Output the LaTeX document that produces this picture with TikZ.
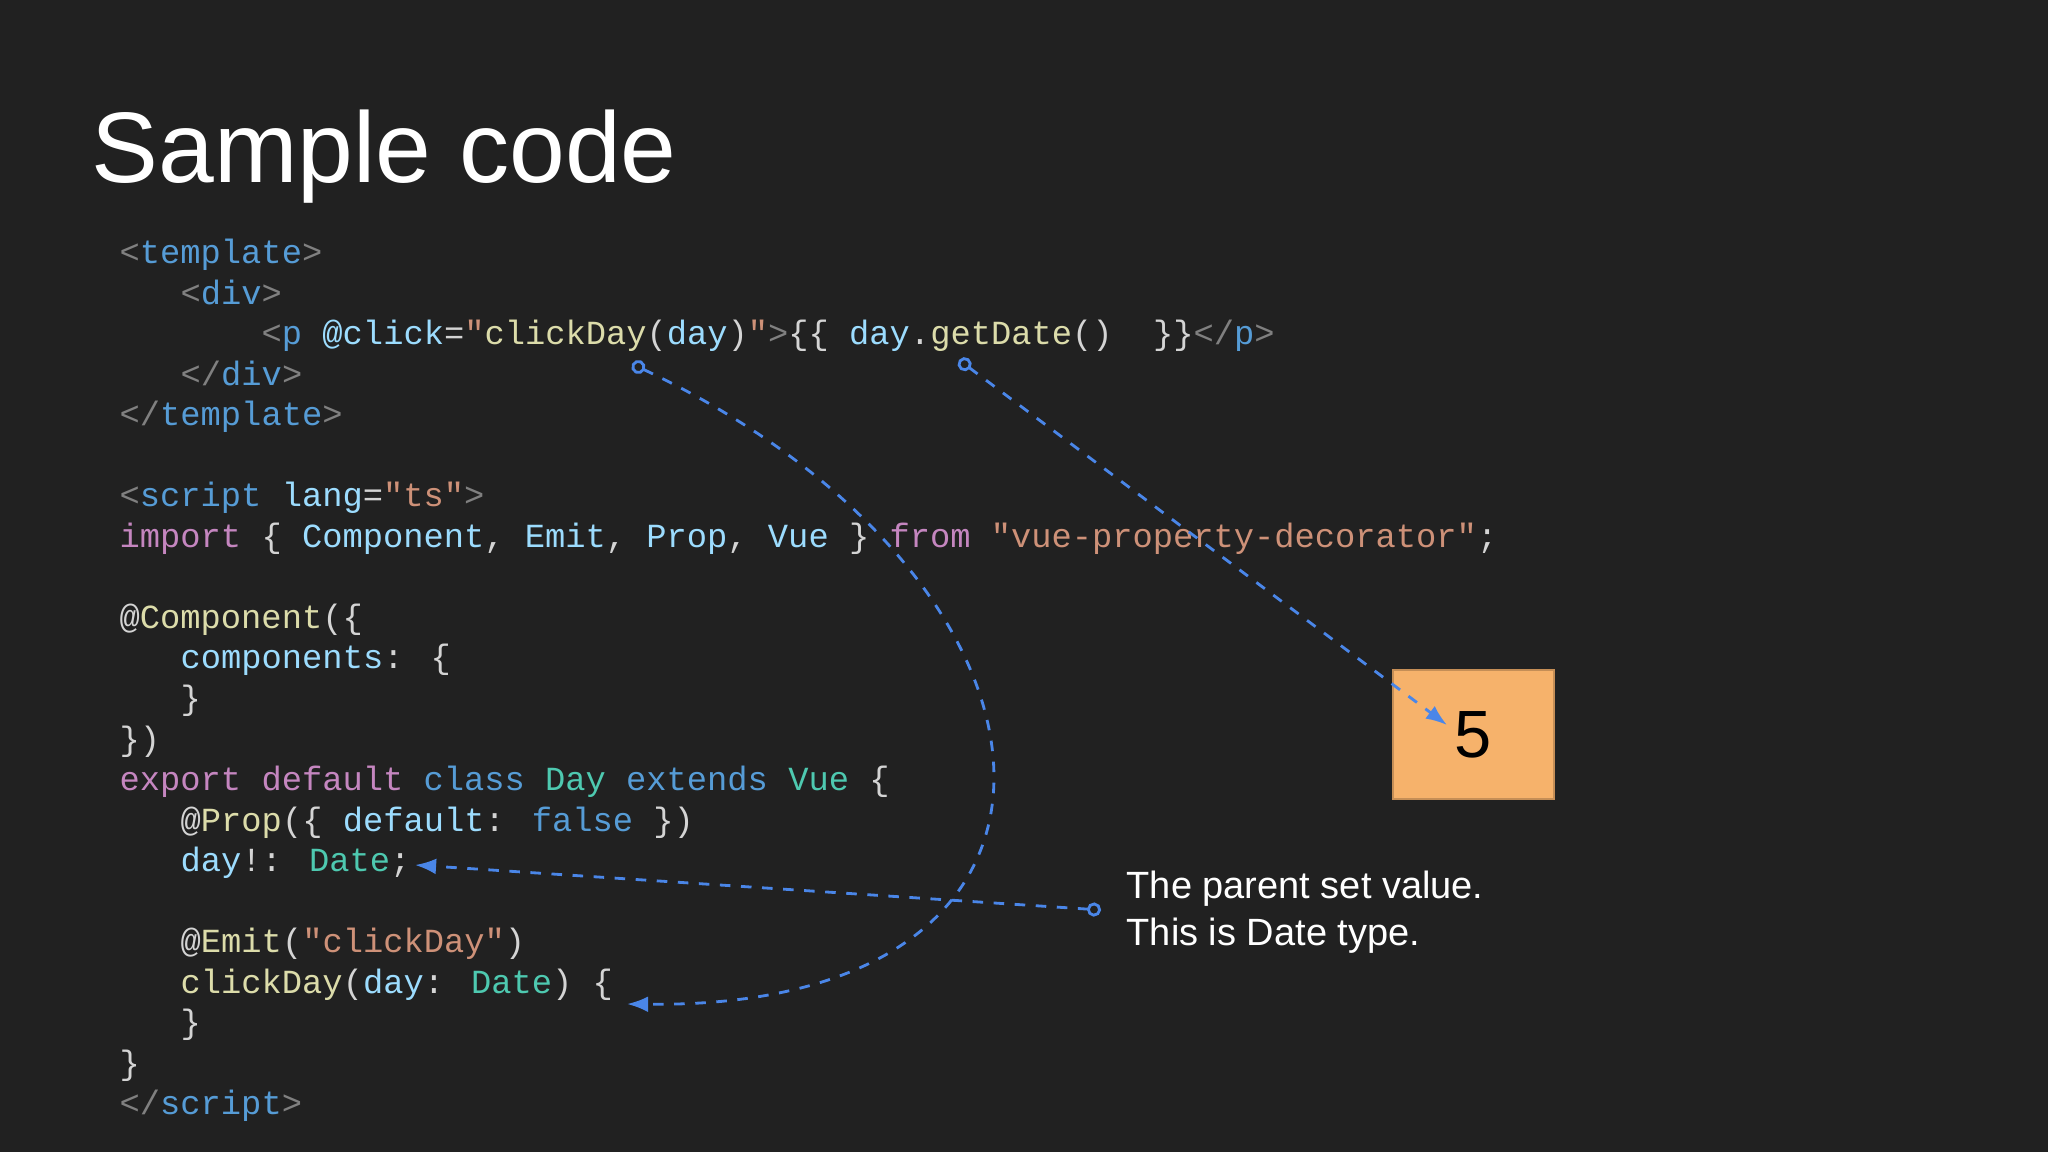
\documentclass[tikz,border=0pt]{standalone}
\usepackage{fontspec}
\setmainfont{Liberation Sans}
\newfontfamily\codefont{Liberation Mono}
\usetikzlibrary{arrows.meta,positioning}
\definecolor{slidebg}{HTML}{212121}
\definecolor{cgray}{HTML}{808080}
\definecolor{ctag}{HTML}{569CD6}
\definecolor{cattr}{HTML}{9CDCFE}
\definecolor{cstr}{HTML}{CE9178}
\definecolor{ckey}{HTML}{C586C0}
\definecolor{cfun}{HTML}{DCDCAA}
\definecolor{ctype}{HTML}{4EC9B0}
\definecolor{cplain}{HTML}{D4D4D4}
\definecolor{linkblue}{HTML}{4A86E8}
\definecolor{boxorange}{HTML}{F6B26B}
\newcommand\cg[1]{\textcolor{cgray}{#1}}
\newcommand\ct[1]{\textcolor{ctag}{#1}}
\newcommand\ca[1]{\textcolor{cattr}{#1}}
\newcommand\cs[1]{\textcolor{cstr}{#1}}
\newcommand\ck[1]{\textcolor{ckey}{#1}}
\newcommand\cf[1]{\textcolor{cfun}{#1}}
\newcommand\cy[1]{\textcolor{ctype}{#1}}
\begin{document}
\begin{tikzpicture}[x=0.01cm,y=-0.01cm,
  codeline/.style={anchor=base west,inner sep=0pt,text=cplain,
    font=\codefont\fontsize{9.6}{11}\selectfont},
  link/.style={linkblue,thick,dashed,{Circle[open,length=4pt]}-{Latex[length=6pt]}}]
  \fill[slidebg] (0,0) rectangle (2048,1152);
  \node[anchor=base west,inner sep=0pt,text=white,font=\fontsize{28.5}{30}\selectfont]
    (title) at (91,183) {Sample code};
  % template block
  \node[codeline] (l1) at (119,264) {\cg{<}\ct{template}\cg{>}};
  \node[codeline] (l2) at (180,304.5) {\cg{<}\ct{div}\cg{>}};
  \node[codeline] (l3) at (261,345) {\cg{<}\ct{p} \ca{@click}=\cs{"}\cf{clickDay}(\ca{day})\cs{"}\cg{>}\{\{ \ca{day}.\cf{getDate}()\ \ \}\}\cg{</}\ct{p}\cg{>}};
  \node[codeline] (l4) at (180,385.5) {\cg{</}\ct{div}\cg{>}};
  \node[codeline] (l5) at (119,426) {\cg{</}\ct{template}\cg{>}};
  % script block
  \node[codeline] (l7) at (119,507) {\cg{<}\ct{script} \ca{lang}=\cs{"ts"}\cg{>}};
  \node[codeline] (l8) at (119,547.5) {\ck{import} \{ \ca{Component}, \ca{Emit}, \ca{Prop}, \ca{Vue} \} \ck{from} \cs{"vue-property-decorator"};};
  \node[codeline] (l10) at (119,628.5) {@\cf{Component}(\{};
  \node[codeline] (l11) at (180,669) {\ca{components}: \{};
  \node[codeline] (l12) at (180,709.5) {\}};
  \node[codeline] (l13) at (119,750) {\})};
  \node[codeline] (l14) at (119,790.5) {\ck{export} \ck{default} \ct{class} \cy{Day} \ct{extends} \cy{Vue} \{};
  \node[codeline] (l15) at (180,831) {@\cf{Prop}(\{ \ca{default}: \ct{false} \})};
  \node[codeline] (l16) at (180,871.5) {\ca{day}!: \cy{Date};};
  \node[codeline] (l18) at (180,952.5) {@\cf{Emit}(\cs{"clickDay"})};
  \node[codeline] (l19) at (180,993) {\cf{clickDay}(\ca{day}: \cy{Date}) \{};
  \node[codeline] (l20) at (180,1033.5) {\}};
  \node[codeline] (l21) at (119,1074) {\}};
  \node[codeline] (l22) at (119,1114.5) {\cg{</}\ct{script}\cg{>}};
  % value box and note
  \node[fill=boxorange,draw=boxorange!80!black,minimum width=1.61cm,minimum height=1.29cm,
    inner sep=0pt,font=\fontsize{19}{20}\selectfont] (value) at (1473.5,734.5) {5};
  \node[anchor=north west,inner sep=0pt,text=white,align=left,
    font=\fontsize{10.8}{13.4}\selectfont] (note) at (1126,870) {The parent set value.\\This is Date type.};
  % link points
  \coordinate (clickSrc) at (632,364);
  \coordinate (clickDst) at (627,1004);
  \coordinate (dateSrc) at (959,360);
  \coordinate (dateDst) at (1447,725);
  \coordinate (noteSrc) at (1101,910);
  \coordinate (noteDst) at (415,865);
  \draw[link] (clickSrc) .. controls (1090,580) and (1130,1010) .. (clickDst);
  \draw[link] (dateSrc) -- (dateDst);
  \draw[link] (noteSrc) -- (noteDst);
\end{tikzpicture}
\end{document}
